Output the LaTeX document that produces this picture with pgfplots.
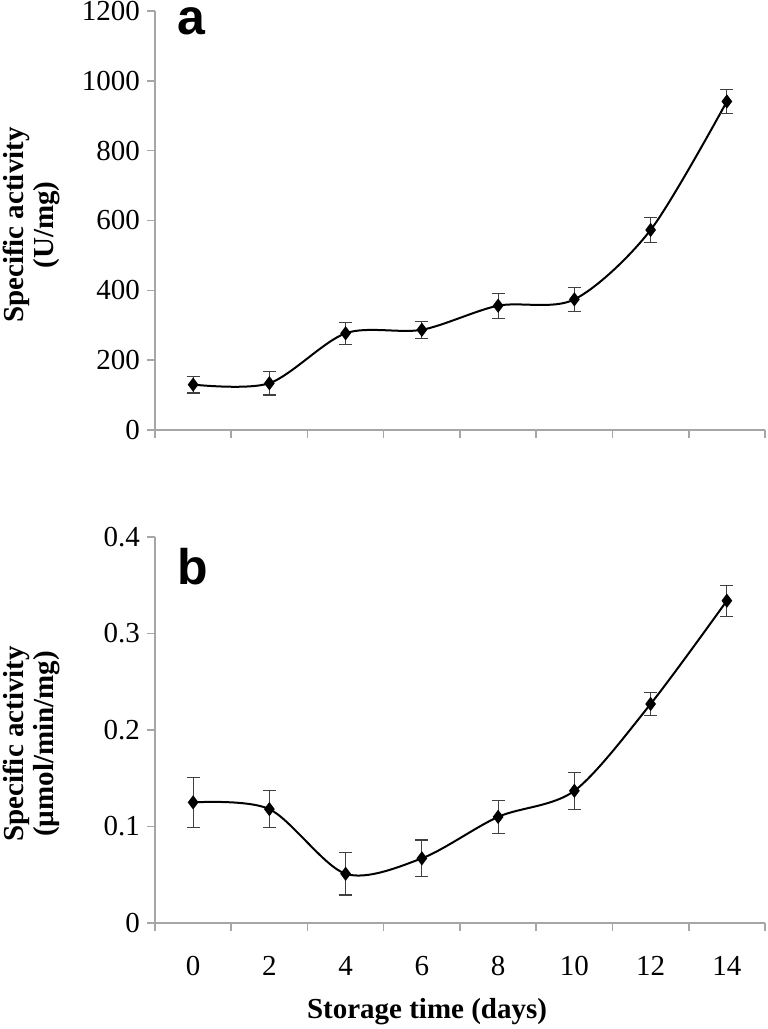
\documentclass[border=0pt]{standalone}
\usepackage{fontspec}
\setmainfont{Liberation Serif}
\newfontfamily\panelfont{Liberation Sans}
\usepackage{pgfplots}
\pgfplotsset{compat=1.18}
\definecolor{axgray}{HTML}{A6A6A6}
\definecolor{errgray}{HTML}{404040}
\begin{document}
\begin{tikzpicture}
\useasboundingbox (-77.5pt,-53pt) rectangle (306pt,461.5pt);
\pgfplotsset{
  myaxis/.style={
    scale only axis, width=305pt,
    xmin=-1, xmax=15, ymin=0,
    axis x line=bottom, axis y line=left,
    axis line style={axgray, line width=0.75pt, -},
    tick align=outside,
    major tick length=4pt,
    every tick/.style={axgray, line width=0.75pt},
    xtick={-1,1,...,15},
    xticklabels={},
    tick label style={font=\fontsize{14.5}{16}\selectfont},
    ylabel style={align=center, font=\bfseries\fontsize{14.5}{15}\selectfont, anchor=center},
    clip=false,
  },
  myplot/.style={
    black, line width=1pt, smooth, tension=0.5,
    mark=diamond*, mark size=2.75pt, mark options={solid, fill=black},
    error bars/.cd, y dir=both, y explicit,
    error bar style={errgray, line width=0.6pt},
    error mark options={errgray, rotate=90, mark size=3.2pt, line width=0.6pt},
  },
}
% Panel a
\begin{axis}[myaxis, at={(0,246.5pt)}, height=209.5pt,
  ymax=1200, ytick={0,200,...,1200},
  yticklabels={0,200,400,600,800,1000,1200},
  ylabel={Specific activity\\(U/mg)},
  ylabel style={at={(axis description cs:-0.203,0.489)}},
]
\addplot+[myplot] coordinates {
  (0,130) +- (0,24)
  (2,134) +- (0,34)
  (4,277) +- (0,31)
  (6,287) +- (0,24)
  (8,356) +- (0,36)
  (10,374) +- (0,34)
  (12,573) +- (0,36)
  (14,941) +- (0,34)
};
\node[anchor=base west, inner sep=0pt, font=\panelfont\bfseries\fontsize{25}{25}\selectfont] at (rel axis cs:0.037,0.943) {a};
\end{axis}
% Panel b
\begin{axis}[myaxis, at={(0,0)}, height=193pt,
  ymax=0.4, ytick={0,0.1,0.2,0.3,0.4},
  yticklabels={0,0.1,0.2,0.3,0.4},
  extra x ticks={0,2,...,14},
  extra x tick labels={0,2,4,6,8,10,12,14},
  extra x tick style={major tick length=0pt, xticklabel style={yshift=-13pt}},
  xlabel={Storage time (days)},
  xlabel style={at={(axis description cs:0.446,-0.2306)}, anchor=center, font=\bfseries\fontsize{14.5}{16}\selectfont},
  ylabel={Specific activity\\(µmol/min/mg)},
  ylabel style={at={(axis description cs:-0.203,0.464)}},
]
\addplot+[myplot] coordinates {
  (0,0.125) +- (0,0.026)
  (2,0.118) +- (0,0.019)
  (4,0.051) +- (0,0.022)
  (6,0.067) +- (0,0.019)
  (8,0.110) +- (0,0.017)
  (10,0.137) +- (0,0.019)
  (12,0.227) +- (0,0.012)
  (14,0.334) +- (0,0.016)
};
\node[anchor=base west, inner sep=0pt, font=\panelfont\bfseries\fontsize{25}{25}\selectfont] at (rel axis cs:0.037,0.876) {b};
\end{axis}
\end{tikzpicture}
\end{document}
